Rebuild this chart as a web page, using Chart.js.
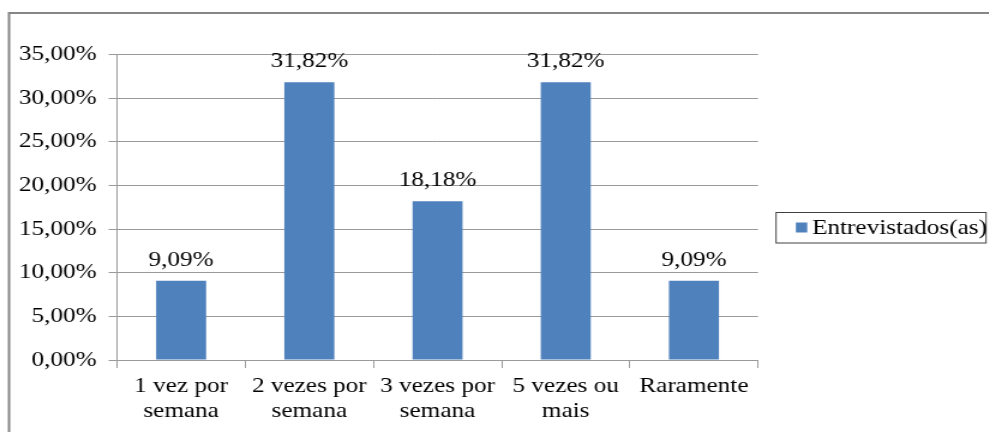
<!DOCTYPE html>
<html>
<head>
<meta charset="utf-8">
<script src="https://cdn.jsdelivr.net/npm/chart.js@4/dist/chart.umd.min.js"></script>
<style>
  html, body { margin: 0; padding: 0; background: #ffffff; overflow: hidden; }
  #wrap { width: 824px; height: 432px; transform: scaleX(1.2); transform-origin: 0 0; }
</style>
</head>
<body>
<div id="wrap"><canvas id="c" width="824" height="432"></canvas></div>
<script>
const categories = [
  ['1 vez por', 'semana'],
  ['2 vezes por', 'semana'],
  ['3 vezes por', 'semana'],
  ['5 vezes ou', 'mais'],
  ['Raramente']
];
const seriesName = 'Entrevistados(as)';
const values = [9.09, 31.82, 18.18, 31.82, 9.09];
const yTicks = { min: 0, max: 35, step: 5 };

const FONT = "'Liberation Serif', 'Times New Roman', serif";
const BAR = '#4F81BD';
const GRID = '#9a9a9a';
const fmt = v => v.toFixed(2).replace('.', ',') + '%';

const framePlugin = {
  id: 'frame',
  beforeDraw(chart) {
    const ctx = chart.ctx;
    ctx.save();
    ctx.strokeStyle = '#868686';
    ctx.lineWidth = 2;
    ctx.beginPath();
    ctx.moveTo(7.5, 440);
    ctx.lineTo(7.5, 13);
    ctx.lineTo(chart.width + 5, 13);
    ctx.stroke();
    ctx.restore();
  }
};

const labelPlugin = {
  id: 'valueLabels',
  afterDatasetsDraw(chart) {
    const ctx = chart.ctx;
    const meta = chart.getDatasetMeta(0);
    ctx.save();
    ctx.font = '21px ' + FONT;
    ctx.fillStyle = '#000000';
    ctx.textAlign = 'center';
    ctx.textBaseline = 'alphabetic';
    meta.data.forEach((bar, i) => {
      ctx.fillText(fmt(chart.data.datasets[0].data[i]), bar.x, bar.y - 15);
    });
    ctx.restore();
  }
};

const legendPlugin = {
  id: 'boxLegend',
  afterDraw(chart) {
    const ctx = chart.ctx;
    const ca = chart.chartArea;
    const left = ca.right + 15;
    const top = 212.5;
    const w = 175, h = 30.5;
    ctx.save();
    ctx.strokeStyle = '#404040';
    ctx.lineWidth = 1;
    ctx.strokeRect(left, top, w, h);
    ctx.fillStyle = chart.data.datasets[0].backgroundColor;
    ctx.fillRect(left + 16.5, top + 10, 9.5, 10);
    ctx.font = '21px ' + FONT;
    ctx.fillStyle = '#000000';
    ctx.textAlign = 'left';
    ctx.textBaseline = 'middle';
    ctx.fillText(chart.data.datasets[0].label, left + 30, top + 16);
    ctx.restore();
  }
};

new Chart(document.getElementById('c'), {
  type: 'bar',
  data: {
    labels: categories,
    datasets: [{
      label: seriesName,
      data: values,
      backgroundColor: BAR,
      borderWidth: 0,
      barPercentage: 0.39,
      categoryPercentage: 1.0
    }]
  },
  options: {
    responsive: false,
    animation: false,
    devicePixelRatio: 1,
    layout: { padding: { left: 0, top: 54.5, right: 192.3, bottom: 0 } },
    plugins: {
      legend: { display: false },
      tooltip: { enabled: false },
      title: { display: false }
    },
    scales: {
      x: {
        grid: {
          offset: true,
          drawOnChartArea: false,
          drawTicks: true,
          tickLength: 8,
          color: GRID
        },
        border: { display: true, color: GRID, width: 1 },
        ticks: {
          color: '#000000',
          padding: 6,
          maxRotation: 0,
          autoSkip: false,
          font: { family: FONT, size: 21, lineHeight: 1.2 }
        },
        afterFit(scale) { scale.height = 72; }
      },
      y: {
        min: yTicks.min,
        max: yTicks.max,
        ticks: {
          stepSize: yTicks.step,
          color: '#000000',
          padding: 10,
          font: { family: FONT, size: 21 },
          callback: v => fmt(v)
        },
        grid: {
          color: GRID,
          drawTicks: true,
          tickLength: 7
        },
        border: { display: true, color: GRID, width: 1 },
        afterFit(scale) { scale.width = 97.5; }
      }
    }
  },
  plugins: [framePlugin, labelPlugin, legendPlugin]
});
</script>
</body>
</html>
